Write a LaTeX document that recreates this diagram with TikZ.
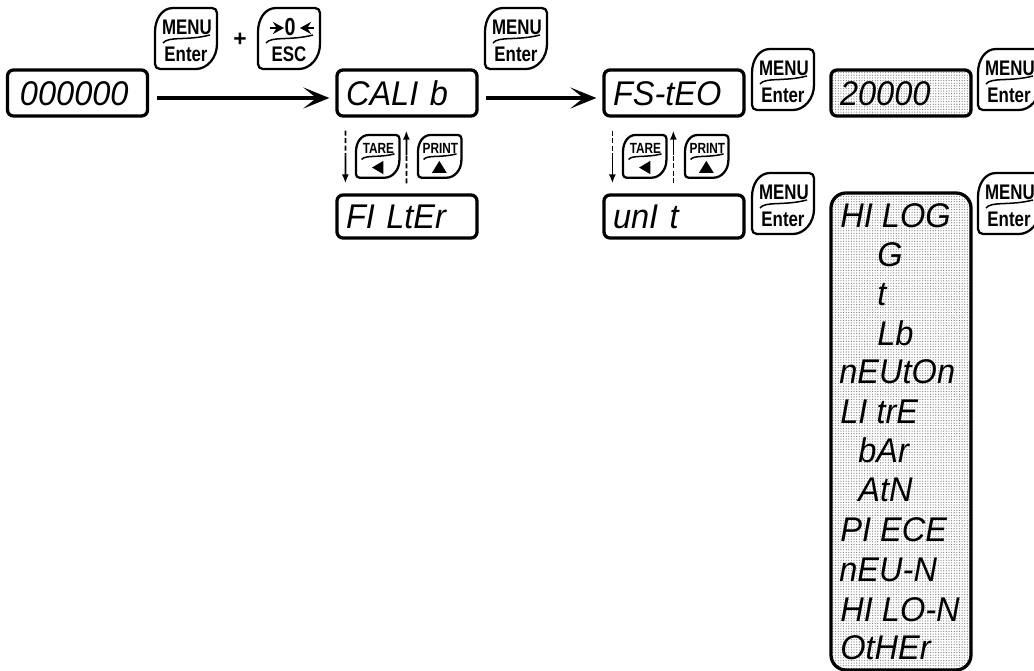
\documentclass[tikz,border=0pt]{standalone}
\usepackage{fontspec}
\usepackage{xcolor}
\usetikzlibrary{arrows.meta,patterns.meta,calc}
\newfontfamily\segfont[FakeStretch=.95]{Liberation Sans}
\newfontfamily\keyfont{Liberation Sans}

\tikzset{
  display/.style={draw, line width=.65mm, rounded corners=1.2mm, minimum width=28mm, minimum height=9.2mm,
    inner xsep=1.8mm, inner ysep=0pt, text width=24.4mm, align=left, text height=5mm, text depth=0pt,
    font=\segfont\itshape\fontsize{19.5}{20}\selectfont},
  shaded/.style={pattern={Dots[distance=1.5pt,radius=.36pt]}, pattern color=gray},
  segtext/.style={anchor=base west, inner sep=0pt, font=\segfont\itshape\fontsize{19.5}{20}\selectfont},
  keyline/.style={line width=.45mm, line join=round},
  keytext/.style={inner sep=0pt, xscale=.8, transform shape, font=\keyfont\bfseries\fontsize{12}{13}\selectfont},
  bigarrow/.style={line width=.9mm, -{Stealth[length=5.2mm,width=4.2mm,inset=2.6mm]}},
  thinline/.style={line width=.35mm},
  thindash/.style={line width=.35mm, dash pattern=on 1mm off .5mm},
  thinarrow/.style={-{Latex[length=1.8mm,width=1.4mm]}},
}

% key cap: name, left, top, scale, upper label, lower part
\newcommand{\keycap}[6]{
  \begin{scope}[shift={(#2,#3)}, scale=#4]
    \draw[keyline] (0,24) .. controls (0,11) and (7,0) .. (18,0) -- (57,0) .. controls (60,0) and (62,2) .. (62,5)
      -- (62,36) .. controls (62,50) and (52,61) .. (41,61) -- (5,61) .. controls (2,61) and (0,59) .. (0,56) -- cycle;
    \draw[line width=.3mm] (8,35) .. controls (13,28) and (32,33) .. (55,27);
    \node[keytext] (#1) at (32,19) {#5};
    #6
  \end{scope}
}

\begin{document}
\begin{tikzpicture}[x=.2mm, y=-.2mm, >=latex]
\useasboundingbox (0,0) rectangle (1034,671);

% 1. Displays
\node[display] (zero) at (77.5,93) {\hspace*{.7mm}000000};
\node[display] (calib) at (407,93) {CALI b};
\node[display, minimum height=8.6mm] (filter) at (407,216.5) {FI LtEr};
\node[display] (fsted) at (674,93) {FS-tEO};
\node[display, minimum height=8.6mm] (unit) at (674,216.5) {unI t};
\node[display, shaded] (value) at (901,93) {20000};
\node[display, shaded, rounded corners=3mm, minimum height=95.4mm] (units) at (901,431.5) {};

% 2. List of units
\foreach \n/\px/\py/\txt in {1/840/228/HI LOG, 2/877/267/G, 3/877/306/t, 4/877/346/Lb, 5/839/384/nEUtOn,
    6/840/424/LI trE, 7/858/463/bAr, 8/858/502/AtN, 9/840/542/PI ECE, 10/839/582/nEU-N, 11/840/622/HI LO-N, 12/840/660/OtHEr}
  \node[segtext] (row\n) at (\px,\py) {\txt};

% 3. Main arrows
\draw[bigarrow] ([shift={(8,5)}]zero.east) -- ([shift={(-6,5)}]calib.west);
\draw[bigarrow] ([shift={(7,5)}]calib.east) -- ([shift={(-6,5)}]fsted.west);

% 4. Up and down arrows
\foreach \upper/\lower in {calib/filter, fsted/unit} {
  \coordinate (midA) at ($(\upper.south west)!.5!(\lower.north west)+(10,0)$);
  \coordinate (midB) at ($(\upper.south west)!.5!(\lower.north west)+(71,0)$);
  \draw[thindash] ([shift={(10,13)}]\upper.south west) -- (midA);
  \draw[thinline, thinarrow] (midA) -- ([shift={(10,-10)}]\lower.north west);
  \draw[thindash] ([shift={(71,-10)}]\lower.north west) -- (midB);
  \draw[thinline, thinarrow] (midB) -- ([shift={(71,13)}]\upper.south west);
}

% 5. Keys
\keycap{menuA}{155}{8}{1}{MENU}{\node[keytext] (enterA) at (31,46) {Enter};}
\node[inner sep=0pt, font=\keyfont\bfseries\fontsize{13}{13}\selectfont] (plus) at (240,40) {+};
\keycap{zeroKey}{258}{8}{1}{\fontsize{14}{14}\selectfont 0}{\node[keytext] (esc) at (31,46) {ESC};
  \draw[line width=.5mm, -{Stealth[length=2.2mm,width=2.4mm]}] (12,20) -- (26,20);
  \draw[line width=.5mm, -{Stealth[length=2.2mm,width=2.4mm]}] (56,20) -- (42,20);}
\keycap{menuB}{485}{8}{1}{MENU}{\node[keytext] (enterB) at (31,46) {Enter};}
\keycap{menuC}{752}{49}{1}{MENU}{\node[keytext] (enterC) at (31,46) {Enter};}
\keycap{menuD}{978}{49}{1}{MENU}{\node[keytext] (enterD) at (31,46) {Enter};}
\keycap{menuE}{752}{173}{1}{MENU}{\node[keytext] (enterE) at (31,46) {Enter};}
\keycap{menuF}{978}{173}{1}{MENU}{\node[keytext] (enterF) at (31,46) {Enter};}

\foreach \kx/\nm in {356/A, 623/B} {
  \keycap{tare\nm}{\kx}{135}{.7}{TARE}{\fill (23,46.5) -- (39,37) -- (39,56) -- cycle;}
}
\foreach \kx/\nm in {418/A, 685/B} {
  \keycap{print\nm}{\kx}{135}{.7}{PRINT}{\fill (30.5,37) -- (41,54) -- (20,54) -- cycle;}
}
\end{tikzpicture}
\end{document}
